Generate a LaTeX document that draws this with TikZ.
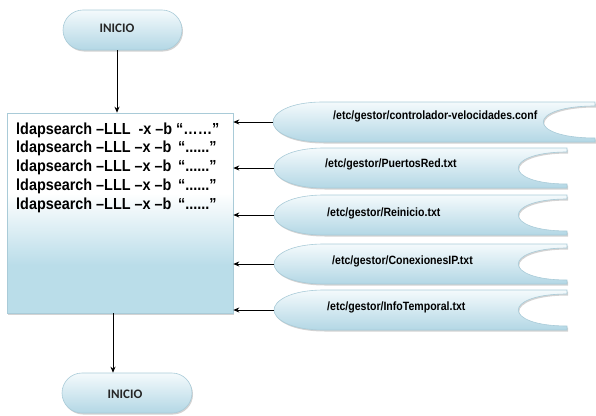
\documentclass[tikz,border=0pt]{standalone}
\usepackage{fontspec}
\newfontfamily\arialn{Liberation Sans}[FakeStretch=0.9]
\newfontfamily\arialm{Liberation Sans}[FakeStretch=0.88]
\newfontfamily\calib{Carlito}
\usetikzlibrary{shadows,arrows.meta}
\definecolor{boxblue}{HTML}{BADDE9}
\definecolor{shpblue}{HTML}{B3D7E5}
\definecolor{shptop}{HTML}{F4FAFC}
\definecolor{edgeblue}{HTML}{A9CBD8}
\pgfdeclareverticalshading{boxsh}{100bp}{color(0bp)=(boxblue); color(25bp)=(boxblue); color(37bp)=(boxblue); color(55bp)=(white); color(75bp)=(white); color(100bp)=(white)}
\tikzset{
  myshadow/.style={drop shadow={opacity=0.35, shadow xshift=1pt, shadow yshift=-1.5pt, fill=gray}},
  term/.style={draw=edgeblue, line width=0.6pt, rounded corners=20pt, top color=shptop, bottom color=shpblue, minimum height=40pt, inner sep=0pt, myshadow},
  procbox/.style={draw=edgeblue, line width=0.6pt, shading=boxsh, minimum width=226pt, minimum height=200pt, inner sep=0pt, myshadow},
  datafill/.style={draw=edgeblue, line width=0.6pt, top color=shptop, bottom color=shpblue, myshadow},
  termtxt/.style={font=\calib\bfseries\fontsize{13}{15}\selectfont, text=black!85, anchor=base, inner sep=0pt},
  cmdtxt/.style={font=\arialn\bfseries\fontsize{16}{18}\selectfont, anchor=base west, inner sep=0pt},
  filetxt/.style={font=\arialm\bfseries\fontsize{12}{14}\selectfont, anchor=base west, inner sep=0pt},
  arr/.style={draw=black, line width=0.8pt, -{Stealth[length=6pt,width=5pt]}}
}
\newcommand\mydata[5]{% name, L, c, R, d
  \path[datafill] (#2+50,#3-20) -- (#4,#3-20) -- (#4,#3-16) .. controls (#4-#5,#3-16) and (#4-#5,#3+16) .. (#4,#3+16) -- (#4,#3+20) -- (#2+50,#3+20) .. controls (#2+16,#3+20) and (#2,#3+9) .. (#2,#3) .. controls (#2,#3-9) and (#2+16,#3-20) .. cycle;
  \coordinate (#1) at (#2,#3);}
\begin{document}
\begin{tikzpicture}[x=1pt,y=-1pt]
\useasboundingbox (0,0) rectangle (596,415);
% terminals
\node[term, minimum width=119pt] (t1) at (122.5,30) {};
\node[termtxt] (t1txt) at (117,32) {INICIO};
\node[procbox] (box) at (120,213) {};
\node[term, minimum width=130pt] (t2) at (127,393) {};
\node[termtxt] (t2txt) at (125,398) {INICIO};
% command lines
\node[cmdtxt] (l1) at (16,134) {ldapsearch –LLL \ -x –b “……”};
\node[cmdtxt] (l2) at (16,152.75) {ldapsearch –LLL –x –b \,“......”};
\node[cmdtxt] (l3) at (16,171.5) {ldapsearch –LLL –x –b \,“......”};
\node[cmdtxt] (l4) at (16,190.25) {ldapsearch –LLL –x –b \,“......”};
\node[cmdtxt] (l5) at (16,209) {ldapsearch –LLL –x –b \,“......”};
% data shapes
\mydata{d1}{273}{122}{595}{69}
\mydata{d2}{274}{168}{567}{65}
\mydata{d3}{274}{215}{567}{65}
\mydata{d4}{274}{264}{567}{65}
\mydata{d5}{274}{310}{567}{65}
\node[filetxt] (f1) at (333,119.5) {/etc/gestor/controlador-velocidades.conf};
\node[filetxt] (f2) at (325,167.5) {/etc/gestor/PuertosRed.txt};
\node[filetxt] (f3) at (327,216.5) {/etc/gestor/Reinicio.txt};
\node[filetxt] (f4) at (332,264.5) {/etc/gestor/ConexionesIP.txt};
\node[filetxt] (f5) at (327,310.5) {/etc/gestor/InfoTemporal.txt};
% connectors
\draw[arr] (t1txt.center |- t1.south) -- (t1txt.center |- box.north);
\draw[arr] (113,313) coordinate (bstart) -- (bstart |- t2.north);
\foreach \d in {d1,d2,d3,d4,d5}{
  \draw[arr] (\d) -- (\d -| box.east);
}
\end{tikzpicture}
\end{document}
